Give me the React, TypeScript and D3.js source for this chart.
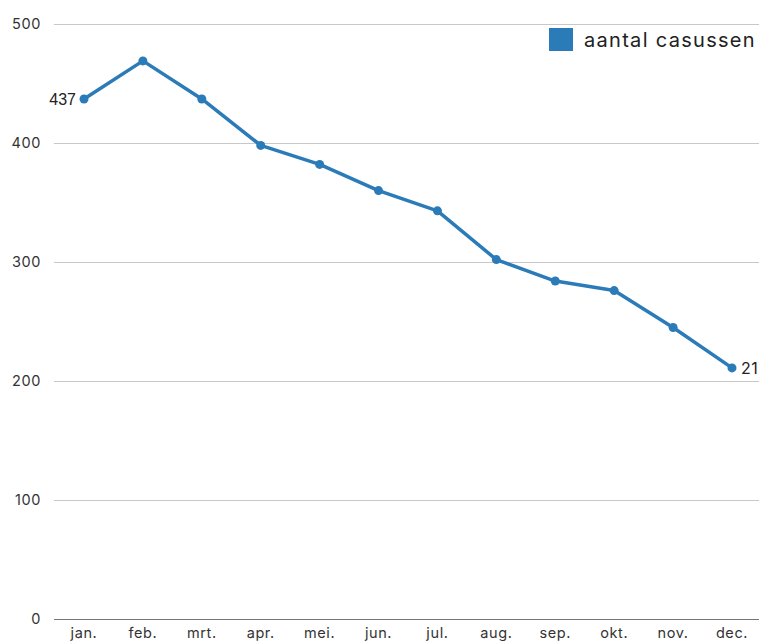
import React, { useEffect, useRef } from "react";
import * as d3 from "d3";

const months = ["jan.", "feb.", "mrt.", "apr.", "mei.", "jun.", "jul.", "aug.", "sep.", "okt.", "nov.", "dec."];
const casussen = [437, 469, 437, 398, 382, 360, 343, 302, 284, 276, 245, 211];
const yTicks = [0, 100, 200, 300, 400, 500];
const seriesName = "aantal casussen";

const W = 759;
const H = 641;
const FONT = "Inter, 'Noto Sans', sans-serif";

const App = () => {
  const svgRef = useRef<SVGSVGElement>(null);

  useEffect(() => {
    const svg = d3.select(svgRef.current);
    svg.selectAll("*").remove();

    // scales
    const x = d3.scalePoint<string>().domain(months).range([84, 732]);
    const y = d3.scaleLinear().domain([0, 500]).range([619, 24]);

    // grid lines
    svg.append("g")
      .selectAll("line")
      .data(yTicks)
      .enter()
      .append("line")
      .attr("x1", 54)
      .attr("x2", W)
      .attr("y1", (d) => y(d))
      .attr("y2", (d) => y(d))
      .attr("stroke", (d) => (d === 0 ? "#777" : "#c8c8c8"))
      .attr("stroke-width", 1)
      .attr("shape-rendering", "crispEdges");

    // y labels
    svg.append("g")
      .selectAll("text")
      .data(yTicks)
      .enter()
      .append("text")
      .attr("x", 41)
      .attr("y", (d) => y(d))
      .attr("dy", "0.35em")
      .attr("text-anchor", "end")
      .style("font-family", FONT)
      .style("font-size", "14.5px")
      .style("letter-spacing", "0.6px")
      .attr("fill", "#333")
      .text((d) => d);

    // x labels
    svg.append("g")
      .selectAll("text")
      .data(months)
      .enter()
      .append("text")
      .attr("x", (d) => x(d)!)
      .attr("y", 638)
      .attr("text-anchor", "middle")
      .style("font-family", FONT)
      .style("font-size", "14.5px")
      .style("letter-spacing", "0.6px")
      .attr("fill", "#333")
      .text((d) => d);

    // line
    const line = d3
      .line<number>()
      .x((_, i) => x(months[i])!)
      .y((d) => y(d));

    svg.append("path")
      .datum(casussen)
      .attr("d", line)
      .attr("fill", "none")
      .attr("stroke", "#2b7bb9")
      .attr("stroke-width", 3.5)
      .attr("stroke-linejoin", "round");

    svg.append("g")
      .selectAll("circle")
      .data(casussen)
      .enter()
      .append("circle")
      .attr("cx", (_, i) => x(months[i])!)
      .attr("cy", (d) => y(d))
      .attr("r", 4.5)
      .attr("fill", "#2b7bb9");

    // first / last value labels
    const last = casussen.length - 1;
    svg.append("text")
      .attr("x", x(months[0])! - 8)
      .attr("y", y(casussen[0]))
      .attr("dy", "0.35em")
      .attr("text-anchor", "end")
      .style("font-family", "'Liberation Sans', Arial, sans-serif")
      .style("font-size", "16px")
      .attr("fill", "#222")
      .text(casussen[0]);

    svg.append("text")
      .attr("x", x(months[last])! + 9)
      .attr("y", y(casussen[last]))
      .attr("dy", "0.35em")
      .attr("text-anchor", "start")
      .style("font-family", FONT)
      .style("font-size", "16px")
      .style("letter-spacing", "0.6px")
      .attr("fill", "#222")
      .text(casussen[last]);

    // legend
    const lg = svg.append("g").attr("transform", "translate(549,28)");
    lg.append("rect").attr("width", 24).attr("height", 23).attr("fill", "#2b7bb9");
    lg.append("text")
      .attr("x", 35)
      .attr("y", 12)
      .attr("dy", "0.35em")
      .style("font-family", FONT)
      .style("font-size", "20px")
      .style("letter-spacing", "1.3px")
      .attr("fill", "#222")
      .text(seriesName);
  }, []);

  return (
    <svg
      ref={svgRef}
      width={W}
      height={H}
      style={{ position: "absolute", left: 0, top: 0, background: "#fff" }}
    ></svg>
  );
};

export default App;
